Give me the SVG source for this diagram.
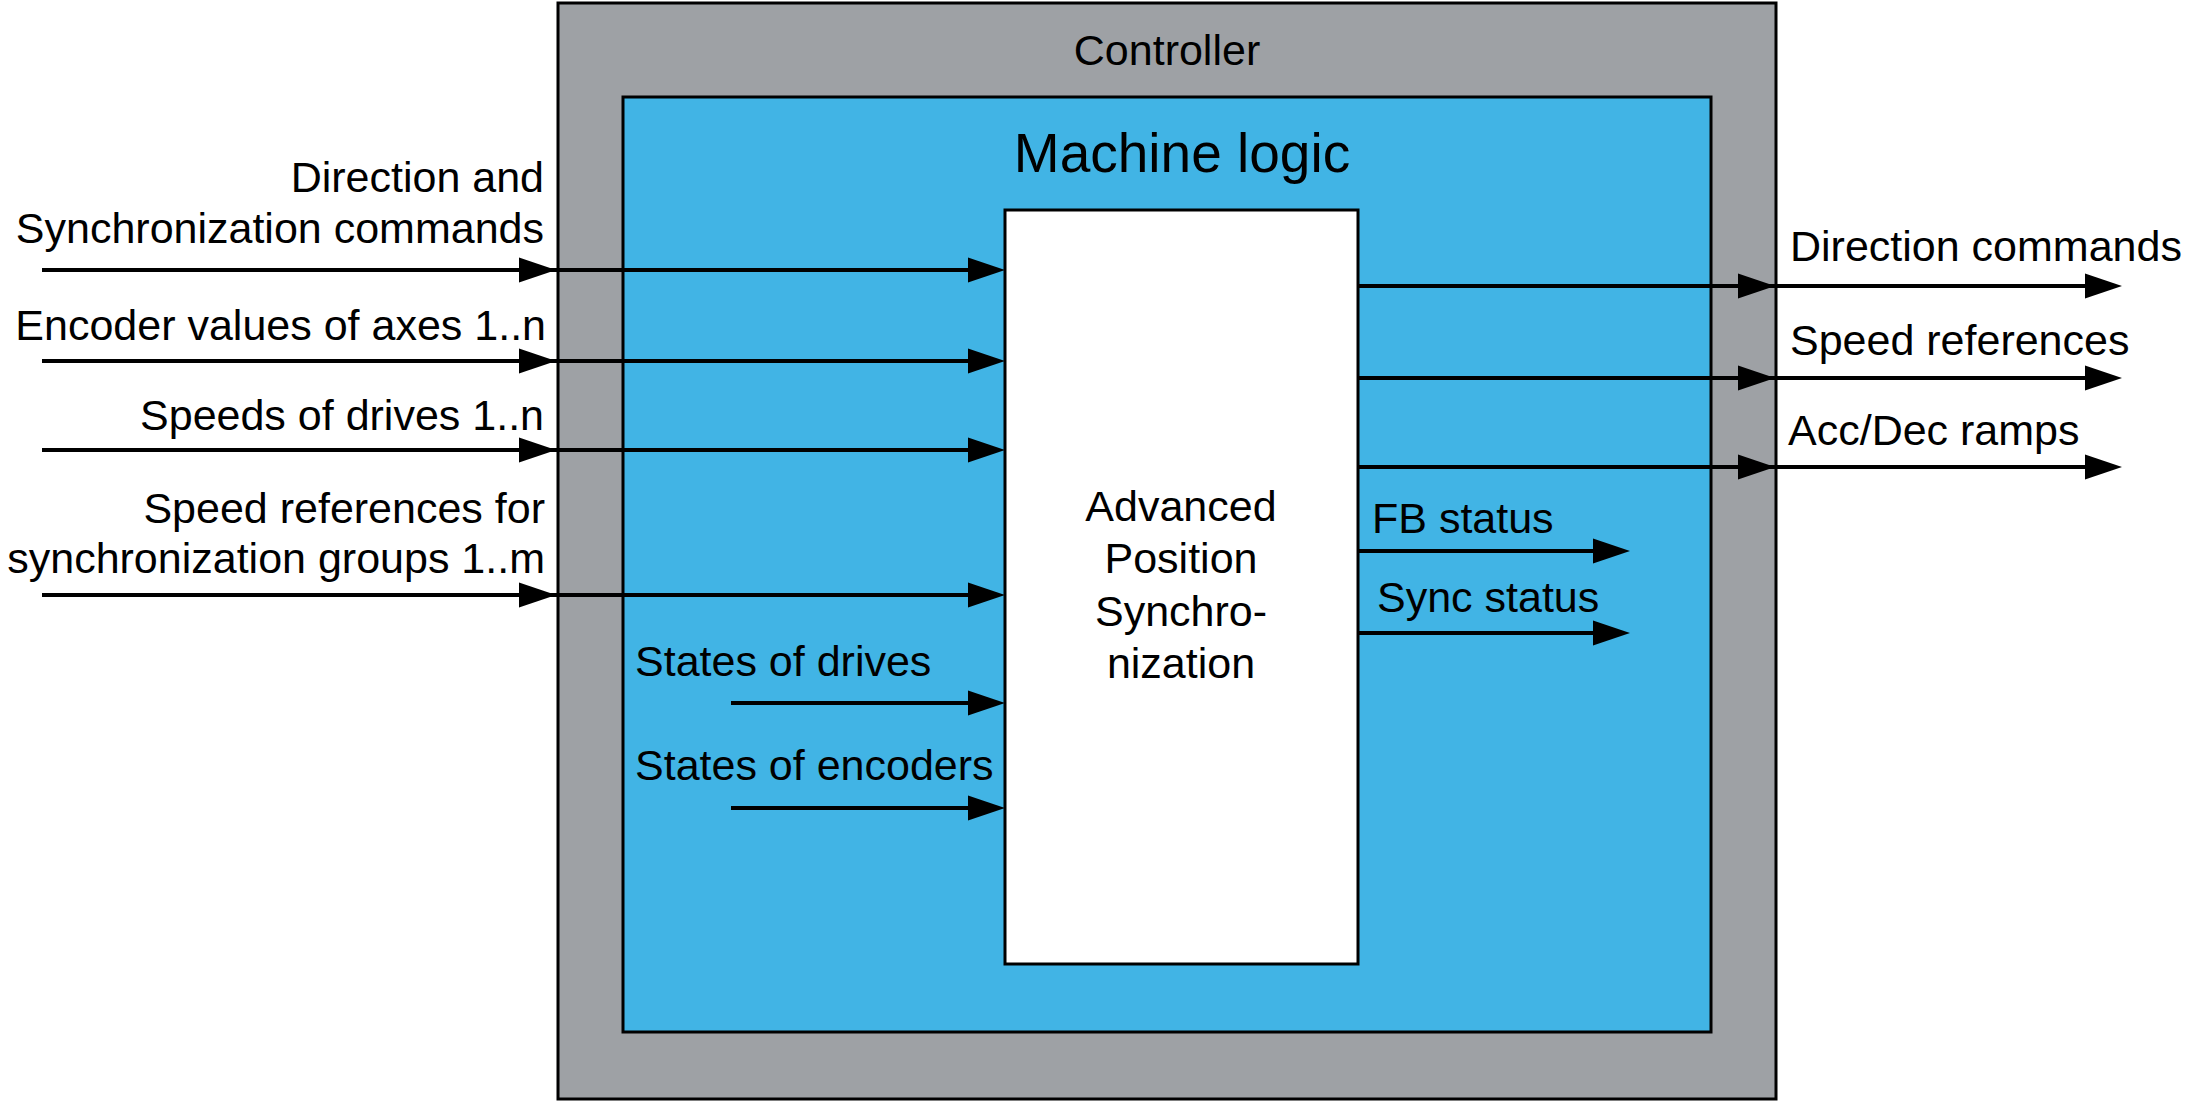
<svg xmlns="http://www.w3.org/2000/svg" width="2189" height="1102" viewBox="0 0 2189 1102">
<style>
  text { font-family: "Liberation Sans", Arial, sans-serif; font-size: 43px; fill: #000; }
  .box { stroke: #000; stroke-width: 3; }
  .conn { fill: none; stroke: #000; stroke-width: 4; marker-mid: url(#arr); marker-end: url(#arr); }
  .end { text-anchor: end; }
  .mid { text-anchor: middle; }
</style>
<defs>
  <marker id="arr" markerUnits="userSpaceOnUse" markerWidth="38" markerHeight="26" refX="0" refY="12.5" orient="auto" overflow="visible">
    <path d="M0,0 L37,12.5 L0,25 Z" fill="#000"/>
  </marker>
</defs>
<rect width="2189" height="1102" fill="#fff"/>
<g id="controller">
  <rect class="box" x="558" y="3" width="1218" height="1096" fill="#9ea1a5"/>
  <text class="mid" x="1167" y="65">Controller</text>
</g>
<g id="machine-logic">
  <rect class="box" x="623" y="97" width="1088" height="935" fill="#41b4e5"/>
  <text class="mid" x="1182" y="172" style="font-size:55px">Machine logic</text>
</g>
<g id="aps">
  <rect class="box" x="1005" y="210" width="353" height="754" fill="#fff"/>
  <text class="mid" x="1181" y="521">Advanced</text>
  <text class="mid" x="1181" y="573">Position</text>
  <text class="mid" x="1181" y="626">Synchro-</text>
  <text class="mid" x="1181" y="678">nization</text>
</g>
<g id="connectors">
  <polyline class="conn" points="42,270 519,270 968,270"/>
  <polyline class="conn" points="42,361 519,361 968,361"/>
  <polyline class="conn" points="42,450 519,450 968,450"/>
  <polyline class="conn" points="42,595 519,595 968,595"/>
  <polyline class="conn" points="731,703 968,703"/>
  <polyline class="conn" points="731,808 968,808"/>
  <polyline class="conn" points="1358,286 1738,286 2085,286"/>
  <polyline class="conn" points="1358,378 1738,378 2085,378"/>
  <polyline class="conn" points="1358,467 1738,467 2085,467"/>
  <polyline class="conn" points="1358,551 1593,551"/>
  <polyline class="conn" points="1358,633 1593,633"/>
</g>
<g id="labels">
  <text class="end" x="544" y="192">Direction and</text>
  <text class="end" x="544" y="243">Synchronization commands</text>
  <text class="end" x="546" y="340">Encoder values of axes 1..n</text>
  <text class="end" x="544" y="430">Speeds of drives 1..n</text>
  <text class="end" x="545" y="523">Speed references for</text>
  <text class="end" x="545" y="573">synchronization groups 1..m</text>
  <text x="635" y="676">States of drives</text>
  <text x="635" y="780">States of encoders</text>
  <text x="1790" y="261">Direction commands</text>
  <text x="1790" y="355">Speed references</text>
  <text x="1788" y="445">Acc/Dec ramps</text>
  <text x="1372" y="533">FB status</text>
  <text x="1377" y="612">Sync status</text>
</g>
</svg>
